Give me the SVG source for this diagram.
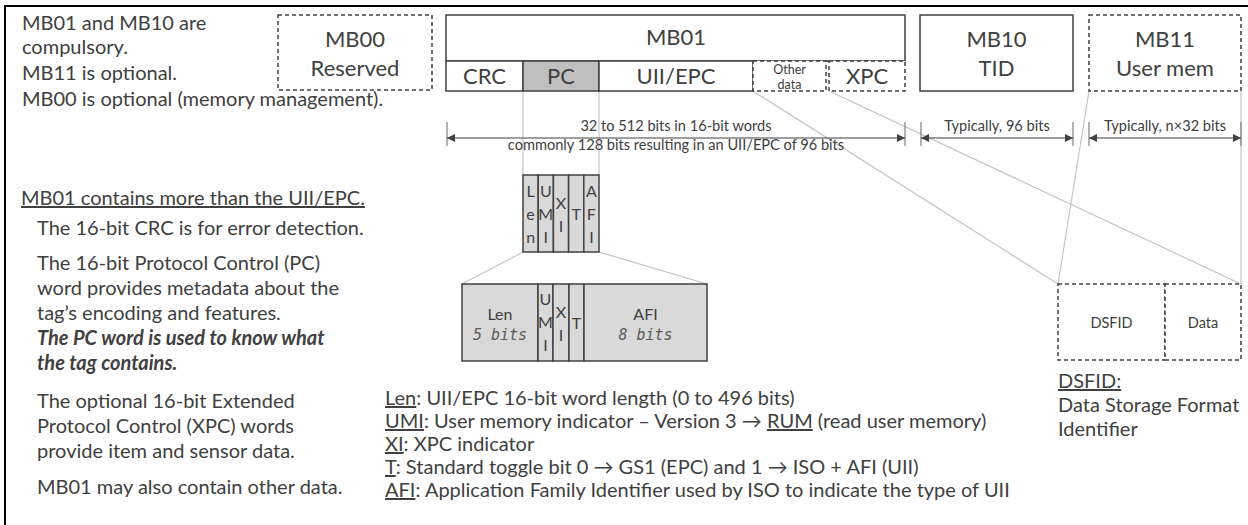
<svg xmlns="http://www.w3.org/2000/svg" width="1248" height="525" viewBox="0 0 1248 525">
<style>
text{font-family:Lato,"Open Sans",sans-serif;fill:#404040}
.t20{font-size:20px}
.t22{font-size:22px}
.t13{font-size:14.6px}
.box{fill:#fff;stroke:#404040;stroke-width:1.5}
.dash{fill:#fff;stroke:#404040;stroke-width:1.5;stroke-dasharray:4 3}
.pcc{fill:#d9d9d9;stroke:#404040;stroke-width:1.5}
.conn{stroke:#c4c4c4;stroke-width:1.2;fill:none}
.dim{stroke:#404040;stroke-width:1.2;fill:none}
.tick{stroke:#7f7f7f;stroke-width:1.2}
.mono{font-family:"DejaVu Sans Mono","Liberation Mono",monospace;fill:#595959;font-size:16px}
.monoi{font-family:"DejaVu Sans Mono","Liberation Mono",monospace;fill:#595959;font-size:15px;font-style:italic}
.u{text-decoration:underline}
</style>
<defs>
<marker id="ah" viewBox="0 0 10 10" refX="10" refY="5" markerWidth="9" markerHeight="8" markerUnits="userSpaceOnUse" orient="auto-start-reverse">
<path d="M0,0 L10,5 L0,10 z" fill="#404040"/>
</marker>
</defs>
<path d="M1248,6 H5 V525" fill="none" stroke="#000" stroke-width="2"/>

<g id="notes-top" class="t20">
<text x="22" y="30">MB01 and MB10 are</text>
<text x="22" y="54">compulsory.</text>
<text x="22" y="80">MB11 is optional.</text>
<text x="22" y="106">MB00 is optional (memory management).</text>
</g>

<g id="notes-left" class="t20">
<text x="21" y="205" class="u">MB01 contains more than the UII/EPC.</text>
<text x="37" y="235">The 16-bit CRC is for error detection.</text>
<text x="37" y="270">The 16-bit Protocol Control (PC)</text>
<text x="37" y="295">word provides metadata about the</text>
<text x="37" y="320">tag’s encoding and features.</text>
<text x="37" y="345" font-weight="bold" font-style="italic">The PC word is used to know what</text>
<text x="37" y="370" font-weight="bold" font-style="italic">the tag contains.</text>
<text x="37" y="408">The optional 16-bit Extended</text>
<text x="37" y="433">Protocol Control (XPC) words</text>
<text x="37" y="458">provide item and sensor data.</text>
<text x="37" y="494">MB01 may also contain other data.</text>
</g>

<g id="connectors">
<line class="conn" x1="523" y1="91" x2="523" y2="175"/>
<line class="conn" x1="599" y1="91" x2="599" y2="175"/>
<line class="conn" x1="523" y1="252" x2="462" y2="284"/>
<line class="conn" x1="599" y1="252" x2="707" y2="284"/>
<line class="conn" x1="753" y1="91" x2="1058" y2="284"/>
<line class="conn" x1="829" y1="91" x2="1241" y2="284"/>
<line class="conn" x1="1089" y1="91" x2="1058" y2="284"/>
<line class="conn" x1="1241" y1="91" x2="1241" y2="284"/>
</g>

<g id="mb00">
<rect class="dash" x="278" y="15" width="154" height="75"/>
<text class="t22" x="355" y="47" text-anchor="middle">MB00</text>
<text class="t22" x="355" y="76" text-anchor="middle">Reserved</text>
</g>

<g id="mb01">
<rect class="box" x="446" y="15" width="459" height="46"/>
<text class="t22" x="676" y="45" text-anchor="middle">MB01</text>
<rect class="box" x="446" y="61" width="77" height="30"/>
<text class="t22" x="484.5" y="84" text-anchor="middle">CRC</text>
<rect class="box" x="523" y="61" width="76" height="30" style="fill:#bfbfbf"/>
<text class="t22" x="561" y="84" text-anchor="middle">PC</text>
<rect class="box" x="599" y="61" width="154" height="30"/>
<text class="t22" x="676" y="84" text-anchor="middle">UII/EPC</text>
<rect class="dash" x="753" y="61" width="73" height="30"/>
<text x="789.5" y="74" font-size="12.5" text-anchor="middle">Other</text>
<text x="789.5" y="89" font-size="12.5" text-anchor="middle">data</text>
<rect class="dash" x="829" y="61" width="76" height="30"/>
<text class="t22" x="867" y="84" text-anchor="middle">XPC</text>
</g>

<g id="mb10">
<rect class="box" x="920" y="15" width="153" height="76"/>
<text class="t22" x="996.5" y="47" text-anchor="middle">MB10</text>
<text class="t22" x="996.5" y="76" text-anchor="middle">TID</text>
</g>

<g id="mb11">
<rect class="dash" x="1089" y="15" width="152" height="76"/>
<text class="t22" x="1165" y="47" text-anchor="middle">MB11</text>
<text class="t22" x="1165" y="76" text-anchor="middle">User mem</text>
</g>

<g id="dimensions">
<line class="tick" x1="447" y1="122" x2="447" y2="146"/>
<line class="tick" x1="905" y1="122" x2="905" y2="146"/>
<line class="dim" x1="447" y1="138" x2="905" y2="138" marker-start="url(#ah)" marker-end="url(#ah)"/>
<text class="t13" x="676" y="131" text-anchor="middle">32 to 512 bits in 16-bit words</text>
<text class="t13" x="676" y="150" text-anchor="middle">commonly 128 bits resulting in an UII/EPC of 96 bits</text>
<line class="tick" x1="921" y1="122" x2="921" y2="146"/>
<line class="tick" x1="1073" y1="122" x2="1073" y2="146"/>
<line class="dim" x1="921" y1="138" x2="1073" y2="138" marker-start="url(#ah)" marker-end="url(#ah)"/>
<text class="t13" x="997" y="131" text-anchor="middle">Typically, 96 bits</text>
<line class="tick" x1="1089" y1="122" x2="1089" y2="146"/>
<line class="tick" x1="1241" y1="122" x2="1241" y2="146"/>
<line class="dim" x1="1089" y1="138" x2="1241" y2="138" marker-start="url(#ah)" marker-end="url(#ah)"/>
<text class="t13" x="1165" y="131" text-anchor="middle">Typically, n×32 bits</text>
</g>

<g id="pc-small">
<rect class="pcc" x="523" y="175" width="15.2" height="77"/>
<rect class="pcc" x="538.2" y="175" width="15.2" height="77"/>
<rect class="pcc" x="553.4" y="175" width="15.2" height="77"/>
<rect class="pcc" x="568.6" y="175" width="15.2" height="77"/>
<rect class="pcc" x="583.8" y="175" width="15.2" height="77"/>
<g class="mono" text-anchor="middle">
<text x="530.6" y="197">L</text><text x="530.6" y="220">e</text><text x="530.6" y="243">n</text>
<text x="545.8" y="197">U</text><text x="545.8" y="220">M</text><text x="545.8" y="243">I</text>
<text x="561" y="209">X</text><text x="561" y="232">I</text>
<text x="576.2" y="220">T</text>
<text x="591.4" y="197">A</text><text x="591.4" y="220">F</text><text x="591.4" y="243">I</text>
</g>
</g>

<g id="pc-large">
<rect class="pcc" x="462" y="284" width="76" height="77"/>
<rect class="pcc" x="538" y="284" width="15" height="77"/>
<rect class="pcc" x="553" y="284" width="16" height="77"/>
<rect class="pcc" x="569" y="284" width="15" height="77"/>
<rect class="pcc" x="584" y="284" width="123" height="77"/>
<g class="mono" text-anchor="middle">
<text x="500" y="320">Len</text>
<text x="545.5" y="305">U</text><text x="545.5" y="328">M</text><text x="545.5" y="351">I</text>
<text x="561" y="318">X</text><text x="561" y="341">I</text>
<text x="576.5" y="329">T</text>
<text x="645.5" y="320">AFI</text>
</g>
<text class="monoi" x="500" y="340" text-anchor="middle">5 bits</text>
<text class="monoi" x="645.5" y="340" text-anchor="middle">8 bits</text>
</g>

<g id="legend" class="t20">
<text x="385" y="405"><tspan class="u">Len</tspan>: UII/EPC 16-bit word length (0 to 496 bits)</text>
<text x="385" y="428"><tspan class="u">UMI</tspan>: User memory indicator – Version 3 → <tspan class="u">RUM</tspan> (read user memory)</text>
<text x="385" y="451"><tspan class="u">XI</tspan>: XPC indicator</text>
<text x="385" y="474"><tspan class="u">T</tspan>: Standard toggle bit 0 → GS1 (EPC) and 1 → ISO + AFI (UII)</text>
<text x="385" y="497"><tspan class="u">AFI</tspan>: Application Family Identifier used by ISO to indicate the type of UII</text>
</g>

<g id="dsfid">
<rect class="dash" x="1058" y="284" width="107" height="76"/>
<rect class="dash" x="1165" y="284" width="76" height="76"/>
<text x="1111.5" y="328" font-size="14.5" text-anchor="middle">DSFID</text>
<text x="1203" y="328" font-size="14.5" text-anchor="middle">Data</text>
<text class="t20 u" x="1058" y="388">DSFID:</text>
<text class="t20" x="1058" y="412">Data Storage Format</text>
<text class="t20" x="1058" y="436">Identifier</text>
</g>
</svg>
